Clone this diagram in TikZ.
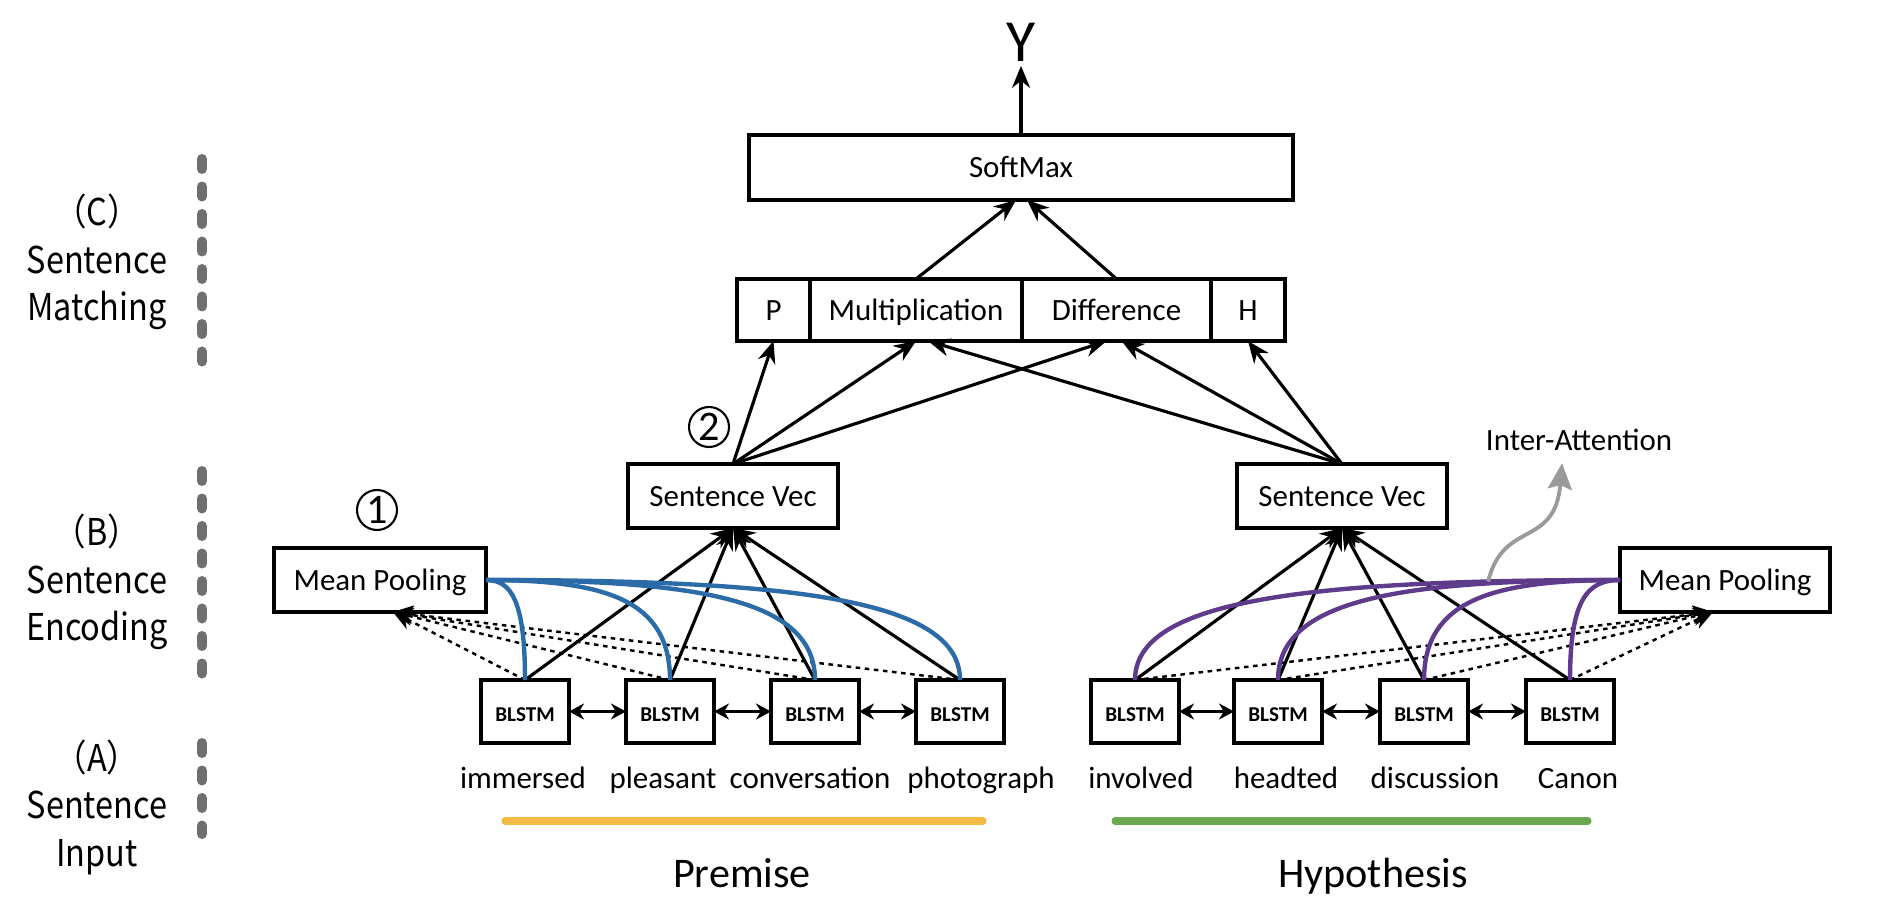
\documentclass[tikz,border=0pt]{standalone}
\usepackage{fontspec}
\setmainfont{Carlito}
\newfontfamily\cjkfont[FakeStretch=0.88]{Noto Sans CJK SC}
\usetikzlibrary{positioning,arrows.meta}
\definecolor{nliazul}{HTML}{2B6CA8}
\definecolor{nliroxo}{HTML}{5F3B8C}
\definecolor{nliamarelo}{HTML}{F4B942}
\definecolor{nliverde}{HTML}{6AA84F}
\definecolor{nlicinza}{HTML}{6F6F6F}
\definecolor{nlicinzaclaro}{HTML}{9A9A9A}
\tikzset{
  nlibox/.style={draw, line width=0.9pt, inner sep=0pt, outer sep=0pt, align=center,
                 text height=1.55ex, text depth=0.3ex},
  nlicell/.style={nlibox, minimum height=6.2mm},
  nliblstm/.style={nlibox, minimum width=8.8mm, minimum height=6.3mm,
                 font=\fontsize{6}{7}\selectfont\bfseries},
  nliword/.style={anchor=base, inner sep=0pt},
  nlinum/.style={circle, draw, line width=0.6pt, minimum size=4mm, inner sep=0pt,
                 font=\fontsize{12}{12}\selectfont},
  nlistage/.style={align=center, font=\cjkfont\fontsize{10.5}{13.5}\selectfont},
  nlibar/.style={draw=nlicinza, line width=1mm, line cap=round, dash pattern=on 1mm off 1.75mm},
  nliarrow/.style={-{Stealth[length=2.2mm,width=1.8mm]}, line width=0.9pt},
  nlibiarrow/.style={{Stealth[length=1.5mm,width=1.6mm]}-{Stealth[length=1.5mm,width=1.6mm]}, line width=0.9pt},
  nlidotarrow/.style={-{Stealth[length=2mm,width=1.8mm]}, line width=0.7pt, dash pattern=on 1.3pt off 1.3pt},
  nlipremcurve/.style={draw=nliazul, line width=1.25pt},
  nlihypcurve/.style={draw=nliroxo, line width=1.25pt},
  nliattn/.style={-{Stealth[length=2.6mm,width=2.4mm,inset=0.4mm]}, draw=nlicinzaclaro, line width=1.1pt},
  nlibase/.style={line width=2pt, line cap=round},
}
\begin{document}
\begin{tikzpicture}[font=\fontsize{8.8}{10.5}\selectfont, x=1cm, y=1cm]
        \useasboundingbox (0,0) rectangle (19,9.06);
        % ---------------- etapas ----------------
        \node[nlistage] (stagec) at (0.97,6.44) {（C）\\Sentence\\Matching};
        \node[nlistage] (stageb) at (0.97,3.24) {（B）\\Sentence\\Encoding};
        \node[nlistage] (stagea) at (0.97,0.99) {（A）\\Sentence\\Input};
        \draw[nlibar] (2.02,7.47) -- (2.02,5.40);
        \draw[nlibar] (2.02,4.35) -- (2.02,2.24);
        \draw[nlibar] (2.02,1.63) -- (2.02,0.72);
        % ---------------- matching ----------------
        \node[font=\fontsize{17}{20}\selectfont, inner sep=1pt] (yout) at (10.21,8.635) {Y};
        \node[nlibox, minimum width=54.4mm, minimum height=6.5mm] (softmax) at (10.21,7.385) {SoftMax};
        \node[nlicell, minimum width=7.3mm] (pcell) at (7.735,5.96) {P};
        \node[nlicell, minimum width=21.2mm, right=0pt of pcell] (mult) {Multiplication};
        \node[nlicell, minimum width=18.9mm, right=0pt of mult] (diff) {Difference};
        \node[nlicell, minimum width=7.4mm, right=0pt of diff] (hcell) {H};
        % ---------------- encoding ----------------
        \node[nlinum] (num2) at (7.09,4.79) {2};
        \node[nlibox, minimum width=21mm, minimum height=6.4mm] (svp) at (7.33,4.10) {Sentence Vec};
        \node[nlibox, minimum width=21mm, minimum height=6.4mm] (svh) at (13.42,4.10) {Sentence Vec};
        \node[nlinum] (num1) at (3.77,3.96) {1};
        \node[nlibox, minimum width=21.2mm, minimum height=6.4mm] (mpp) at (3.80,3.26) {Mean Pooling};
        \node[nlibox, minimum width=21mm, minimum height=6.4mm] (mph) at (17.25,3.26) {Mean Pooling};
        \node (inter) at (15.79,4.66) {Inter-Attention};
        % ---------------- input ----------------
        \node[nliblstm] (bp1) at (5.25,1.945) {BLSTM};
        \node[nliblstm] (bp2) at (6.70,1.945) {BLSTM};
        \node[nliblstm] (bp3) at (8.15,1.945) {BLSTM};
        \node[nliblstm] (bp4) at (9.60,1.945) {BLSTM};
        \node[nliblstm] (bh1) at (11.35,1.945) {BLSTM};
        \node[nliblstm] (bh2) at (12.78,1.945) {BLSTM};
        \node[nliblstm] (bh3) at (14.24,1.945) {BLSTM};
        \node[nliblstm] (bh4) at (15.70,1.945) {BLSTM};
        \node[nliword] (wp1) at (5.23,1.18) {immersed};
        \node[nliword] (wp2) at (6.63,1.18) {pleasant};
        \node[nliword] (wp3) at (8.10,1.18) {conversation};
        \node[nliword] (wp4) at (9.81,1.18) {photograph};
        \node[nliword] (wh1) at (11.41,1.18) {involved};
        \node[nliword] (wh2) at (12.86,1.18) {headted};
        \node[nliword] (wh3) at (14.35,1.18) {discussion};
        \node[nliword] (wh4) at (15.78,1.18) {Canon};
        \draw[nlibase, nliamarelo] (5.05,0.85) -- (9.83,0.85);
        \draw[nlibase, nliverde] (11.15,0.85) -- (15.88,0.85);
        \node[nliword, font=\fontsize{12}{14}\selectfont] (premise) at (7.42,0.19) {Premise};
        \node[nliword, font=\fontsize{12}{14}\selectfont] (hypothesis) at (13.73,0.19) {Hypothesis};
        % ---------------- setas ----------------
        \draw[nliarrow] (softmax.north) -- (yout.south);
        \draw[nliarrow] (mult.north) -- ([xshift=-0.5mm]softmax.south);
        \draw[nliarrow] (diff.north) -- ([xshift=0.6mm]softmax.south);
        \draw[nliarrow] (svp.north) -- (pcell.south);
        \draw[nliarrow] (svp.north) -- (mult.south);
        \draw[nliarrow] (svp.north) -- ([xshift=-1mm]diff.south);
        \draw[nliarrow] (svh.north) -- ([xshift=1.2mm]mult.south);
        \draw[nliarrow] (svh.north) -- ([xshift=0.5mm]diff.south);
        \draw[nliarrow] (svh.north) -- (hcell.south);
        \foreach \b in {bp1,bp2,bp3,bp4} {\draw[nlidotarrow] (\b.north) -- ([xshift=1.3mm]mpp.south);}
        \foreach \b in {bh1,bh2,bh3,bh4} {\draw[nlidotarrow] (\b.north) -- ([xshift=-1.2mm]mph.south);}
        \foreach \b in {bp1,bp2,bp3,bp4} {\draw[nliarrow] (\b.north) -- (svp.south);}
        \foreach \b in {bh1,bh2,bh3,bh4} {\draw[nliarrow] (\b.north) -- (svh.south);}
        \draw[nlibiarrow] (bp1) -- (bp2);
        \draw[nlibiarrow] (bp2) -- (bp3);
        \draw[nlibiarrow] (bp3) -- (bp4);
        \draw[nlibiarrow] (bh1) -- (bh2);
        \draw[nlibiarrow] (bh2) -- (bh3);
        \draw[nlibiarrow] (bh3) -- (bh4);
        % ---------------- pooling ----------------
        \draw[nlipremcurve] (mpp.east) .. controls +(0.25,0) and +(0,0.8) .. (bp1.north);
        \draw[nlipremcurve] (mpp.east) .. controls +(1.2,0) and +(0,0.8) .. (bp2.north);
        \draw[nlipremcurve] (mpp.east) .. controls +(2.15,0) and +(0,0.8) .. (bp3.north);
        \draw[nlipremcurve] (mpp.east) .. controls +(3.1,0) and +(0,0.8) .. (bp4.north);
        \draw[nlihypcurve] (mph.west) .. controls +(-0.33,0) and +(0,0.8) .. (bh4.north);
        \draw[nlihypcurve] (mph.west) .. controls +(-1.27,0) and +(0,0.8) .. (bh3.north);
        \draw[nlihypcurve] (mph.west) .. controls +(-2.22,0) and +(0,0.8) .. (bh2.north);
        \draw[nlihypcurve] (mph.west) .. controls +(-3.15,0) and +(0,0.8) .. coordinate[pos=0.15] (attn) (bh1.north);
        \draw[nliattn] (attn) .. controls +(0.15,0.62) and +(-0.07,-0.85) .. ([xshift=-1.7mm]inter.south);
    \end{tikzpicture}
\end{document}
